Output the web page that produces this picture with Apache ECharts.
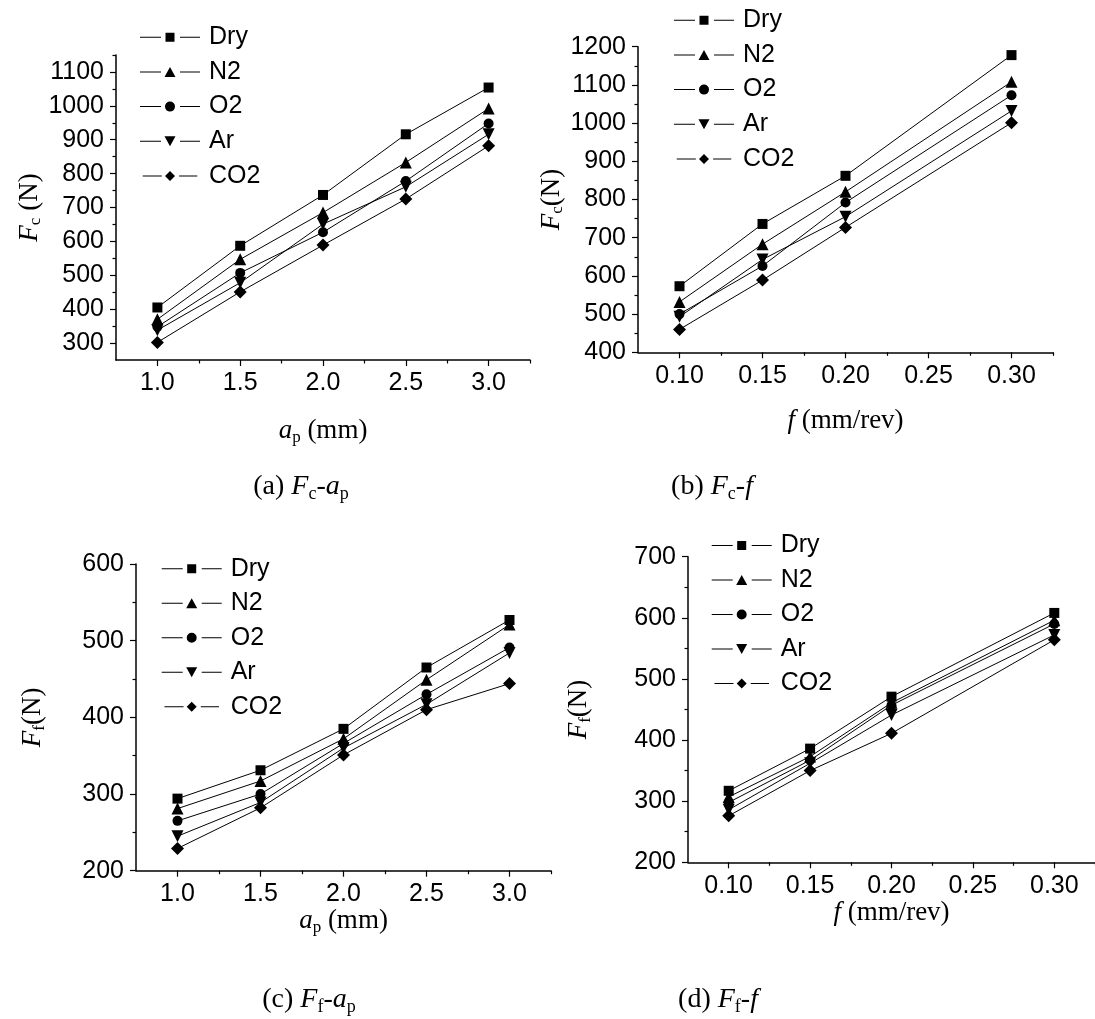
<!DOCTYPE html>
<html>
<head>
<meta charset="utf-8">
<script src="https://cdn.jsdelivr.net/npm/echarts@6/dist/echarts.min.js"></script>
<style>
  html, body { margin: 0; background: #ffffff; }
  #chart { width: 1095px; height: 1019px; }
</style>
</head>
<body>
<div id="chart"></div>
<script>
// gas conditions (legend order)
const gasNames = ['Dry', 'N2', 'O2', 'Ar', 'CO2']

// x values
const depthValues = [1.0, 1.5, 2.0, 2.5, 3.0]
const feedValues = [0.10, 0.15, 0.20, 0.30]

// (a) Fc vs ap, one row per gas
const fcDepth = [
  [405, 587, 737, 916, 1054],
  [370, 547, 685, 833, 992],
  [348, 507, 627, 778, 948],
  [338, 478, 651, 761, 916],
  [302, 451, 589, 725, 882],
]
// (b) Fc vs f
const fcFeed = [
  [573, 736, 862, 1178],
  [532, 683, 820, 1108],
  [500, 626, 792, 1073],
  [493, 643, 755, 1032],
  [460, 589, 727, 1001],
]
// (c) Ff vs ap
const ffDepth = [
  [294, 331, 385, 465, 527],
  [281, 317, 372, 449, 521],
  [265, 300, 366, 430, 491],
  [245, 289, 360, 417, 484],
  [229, 282, 351, 410, 444],
]
// (d) Ff vs f
const ffFeed = [
  [317, 386, 471, 608],
  [307, 373, 461, 596],
  [298, 367, 457, 590],
  [286, 362, 441, 572],
  [276, 350, 411, 564],
]

// tick labels
const depthTicks = [1.0, 1.5, 2.0, 2.5, 3.0]
const depthMinor = [1.25, 1.75, 2.25, 2.75, 3.25]
const feedTicks = [0.10, 0.15, 0.20, 0.25, 0.30]
const feedMinor = [0.125, 0.175, 0.225, 0.275, 0.325]
const fcDepthTicks = [300, 400, 500, 600, 700, 800, 900, 1000, 1100]
const fcDepthMinor = [350, 450, 550, 650, 750, 850, 950, 1050, 1150]
const fcFeedTicks = [400, 500, 600, 700, 800, 900, 1000, 1100, 1200]
const fcFeedMinor = [450, 550, 650, 750, 850, 950, 1050, 1150]
const ffDepthTicks = [200, 300, 400, 500, 600]
const ffDepthMinor = [250, 350, 450, 550]
const ffFeedTicks = [200, 300, 400, 500, 600, 700]
const ffFeedMinor = [250, 350, 450, 550, 650]

const sans = '"Liberation Sans", Arial, sans-serif'
const serif = '"Liberation Serif", "Times New Roman", serif'

const symbols = ['rect', 'triangle', 'circle', 'path://M0,0L10,0L5,8.66Z', 'diamond']
const symbolSizes = [10, 12, 10, 12, 13]

// legend icons: "— marker —" drawn in a 60 x 10 box
const legendSegs = 'M0,4.5H21V5.5H0Z M40,4.5H60V5.5H40Z '
const legendMarks = [
  'M25.5,0.5H34.5V9.5H25.5Z',
  'M24.5,10L30,0L35.5,10Z',
  'M35,5A5,5 0 1 1 25,5A5,5 0 1 1 35,5Z',
  'M24.5,0L35.5,0L30,10Z',
  'M30,-0.5L35.5,5L30,10.5L24.5,5Z',
]

const nameRich = {
  i: { fontFamily: serif, fontStyle: 'italic', fontSize: 27, lineHeight: 30, color: '#000' },
  n: { fontFamily: serif, fontSize: 27, lineHeight: 30, color: '#000' },
  s: { fontFamily: serif, fontSize: 17, lineHeight: 17, verticalAlign: 'bottom', color: '#000' },
}

const grids = [
  { left: 116, top: 55, width: 414, height: 305 },
  { left: 638, top: 46.7, width: 415, height: 305.6 },
  { left: 136, top: 564, width: 415, height: 306.7 },
  { left: 688, top: 556.7, width: 415, height: 305.6 },
]

const panels = [
  {
    xs: depthValues, rows: fcDepth, xMin: 0.75, xMax: 3.25, xTicks: depthTicks, xMinor: depthMinor, digits: 1,
    yMin: 250, yMax: 1150, yTicks: fcDepthTicks, yMinor: fcDepthMinor,
    xName: '{i|a}{s|p}{n| (mm)}', yName: '{i|F}{s|c}{n| (N)}', xGap: 56, yGap: 71,
    legend: { left: 140, top: 24.7, gap: 9.7 },
  },
  {
    xs: feedValues, rows: fcFeed, xMin: 0.075, xMax: 0.325, xTicks: feedTicks, xMinor: feedMinor, digits: 2,
    yMin: 400, yMax: 1200, yTicks: fcFeedTicks, yMinor: fcFeedMinor,
    xName: '{i|f}{n| (mm/rev)}', yName: '{i|F}{s|c}{n|(N)}', xGap: 54, yGap: 62,
    legend: { left: 674, top: 7.7, gap: 9.7 },
  },
  {
    xs: depthValues, rows: ffDepth, xMin: 0.75, xMax: 3.25, xTicks: depthTicks, xMinor: depthMinor, digits: 1,
    yMin: 200, yMax: 600, yTicks: ffDepthTicks, yMinor: ffDepthMinor,
    xName: '{i|a}{s|p}{n| (mm)}', yName: '{i|F}{s|f}{n|(N)}', xGap: 31, yGap: 88,
    legend: { left: 161.7, top: 556.3, gap: 9.5 },
  },
  {
    xs: feedValues, rows: ffFeed, xMin: 0.075, xMax: 0.325, xTicks: feedTicks, xMinor: feedMinor, digits: 2,
    yMin: 200, yMax: 700, yTicks: ffFeedTicks, yMinor: ffFeedMinor,
    xName: '{i|f}{n| (mm/rev)}', yName: '{i|F}{s|f}{n|(N)}', xGap: 26, yGap: 94,
    legend: { left: 711.7, top: 533, gap: 9.5 },
  },
]

const xAxes = []
const yAxes = []
const series = []
const legends = []

panels.forEach((p, k) => {
  xAxes.push({
    type: 'value', gridIndex: k, min: p.xMin, max: p.xMax, position: 'bottom',
    name: p.xName, nameLocation: 'middle', nameGap: p.xGap,
    nameTextStyle: { rich: nameRich },
    axisLine: { show: true, onZero: false, lineStyle: { color: '#000', width: 1.5 } },
    axisTick: { show: true, length: 6, customValues: p.xTicks, lineStyle: { color: '#000', width: 1.2 } },
    axisLabel: {
      customValues: p.xTicks, margin: 11, color: '#000', fontFamily: sans, fontSize: 25,
      formatter: (v) => v.toFixed(p.digits),
    },
    splitLine: { show: false },
  })
  xAxes.push({
    type: 'value', gridIndex: k, min: p.xMin, max: p.xMax, position: 'bottom', offset: 0,
    axisLine: { show: false, onZero: false },
    axisTick: { show: true, length: 3.5, customValues: p.xMinor, lineStyle: { color: '#000', width: 1.2 } },
    axisLabel: { show: false },
    splitLine: { show: false },
  })
  yAxes.push({
    type: 'value', gridIndex: k, min: p.yMin, max: p.yMax, position: 'left',
    name: p.yName, nameLocation: 'middle', nameGap: p.yGap, nameRotate: 90,
    nameTextStyle: { rich: nameRich },
    axisLine: { show: true, onZero: false, lineStyle: { color: '#000', width: 1.5 } },
    axisTick: { show: true, length: 6, customValues: p.yTicks, lineStyle: { color: '#000', width: 1.2 } },
    axisLabel: {
      customValues: p.yTicks, margin: 12, color: '#000', fontFamily: sans, fontSize: 25,
      formatter: (v) => String(v),
    },
    splitLine: { show: false },
  })
  yAxes.push({
    type: 'value', gridIndex: k, min: p.yMin, max: p.yMax, position: 'left', offset: 0,
    axisLine: { show: false, onZero: false },
    axisTick: { show: true, length: 3.5, customValues: p.yMinor, lineStyle: { color: '#000', width: 1.2 } },
    axisLabel: { show: false },
    splitLine: { show: false },
  })

  p.rows.forEach((vals, g) => {
    series.push({
      name: gasNames[g],
      type: 'line',
      xAxisIndex: 2 * k,
      yAxisIndex: 2 * k,
      data: p.xs.map((x, i) => [x, vals[i]]),
      symbol: symbols[g],
      symbolSize: symbolSizes[g],
      lineStyle: { color: '#000', width: 1 },
      itemStyle: { color: '#000' },
      emphasis: { disabled: true },
      z: 5 - g,
    })
  })

  legends.push({
    orient: 'vertical',
    left: p.legend.left,
    top: p.legend.top,
    padding: 0,
    itemGap: p.legend.gap,
    itemWidth: 60,
    itemHeight: 10,
    selectedMode: false,
    itemStyle: { color: '#000', borderWidth: 0 },
    data: gasNames.map((n, g) => ({ name: n, icon: 'path://' + legendSegs + legendMarks[g] })),
    textStyle: { color: '#000', fontFamily: sans, fontSize: 25, lineHeight: 24, padding: [0, 0, 0, 4] },
  })
})

const captionRich = {
  n: { fontFamily: serif, fontSize: 28, lineHeight: 32, color: '#000' },
  i: { fontFamily: serif, fontStyle: 'italic', fontSize: 28, lineHeight: 32, color: '#000' },
  s: { fontFamily: serif, fontSize: 18, lineHeight: 18, verticalAlign: 'bottom', color: '#000' },
}

const captions = [
  { x: 301, y: 487, text: '{n|(a) }{i|F}{s|c}{n|-}{i|a}{s|p}' },
  { x: 712, y: 487, text: '{n|(b) }{i|F}{s|c}{n|-}{i|f}' },
  { x: 309, y: 1000, text: '{n|(c) }{i|F}{s|f}{n|-}{i|a}{s|p}' },
  { x: 718, y: 1000, text: '{n|(d) }{i|F}{s|f}{n|-}{i|f}' },
]

const chart = echarts.init(document.getElementById('chart'))
chart.setOption({
  backgroundColor: '#ffffff',
  animation: false,
  grid: grids,
  xAxis: xAxes,
  yAxis: yAxes,
  legend: legends,
  series: series,
  graphic: captions.map((c) => ({
    type: 'text',
    x: c.x,
    y: c.y,
    style: { text: c.text, rich: captionRich, align: 'center', verticalAlign: 'middle' },
  })),
})
</script>
</body>
</html>
